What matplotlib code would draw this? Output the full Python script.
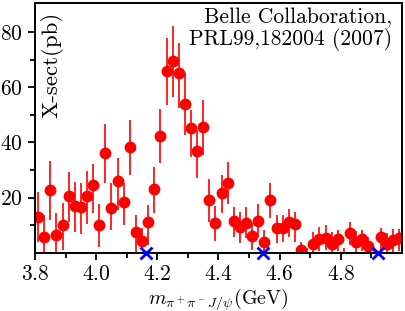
import matplotlib
matplotlib.use('Agg')
import numpy as np
import matplotlib.pyplot as plt

plt.rcParams['font.family'] = 'serif'
plt.rcParams['font.serif'] = ['cmr10', 'DejaVu Serif']
plt.rcParams['mathtext.fontset'] = 'cm'
plt.rcParams['axes.unicode_minus'] = False
plt.rcParams['axes.formatter.use_mathtext'] = True

# bin centres (GeV)
mass = [3.81, 3.83, 3.85, 3.87, 3.89, 3.91, 3.93, 3.95, 3.97, 3.99,
        4.01, 4.03, 4.05, 4.07, 4.09, 4.11, 4.13, 4.15, 4.17, 4.19,
        4.21, 4.23, 4.25, 4.27, 4.29, 4.31, 4.33, 4.35, 4.37, 4.39,
        4.41, 4.43, 4.45, 4.47, 4.49, 4.51, 4.53, 4.55, 4.57, 4.59,
        4.61, 4.63, 4.65, 4.67, 4.69, 4.71, 4.73, 4.75, 4.77, 4.79,
        4.81, 4.83, 4.85, 4.87, 4.89, 4.91, 4.93, 4.95, 4.97, 4.99]
# cross section (pb)
xsec = [13.1, 5.9, 22.8, 6.5, 10.1, 20.6, 17.0, 16.8, 20.6, 24.5,
        10.1, 36.3, 16.4, 26.2, 18.6, 38.4, 7.7, 4.5, 11.1, 23.1,
        42.4, 65.9, 69.5, 65.0, 53.9, 45.1, 37.0, 45.7, 19.2, 11.0,
        21.6, 25.4, 11.7, 9.5, 11.0, 6.1, 11.7, 4.1, 19.2, 8.9,
        9.2, 11.3, 10.5, 1.1, -2.0, 3.1, 5.1, 5.5, 3.1, 5.1,
        -2.0, 7.1, 4.1, 5.1, 2.6, -2.0, 5.9, 3.1, 4.7, 5.3]
err_hi = [9.1, 7.8, 10.5, 7.9, 7.9, 8.6, 8.8, 8.4, 9.2, 7.7,
          7.6, 10.4, 8.8, 8.0, 6.8, 9.7, 6.0, 4.4, 6.3, 8.1,
          9.7, 11.7, 12.6, 11.1, 11.1, 6.6, 7.5, 9.6, 7.5, 6.0,
          6.6, 7.4, 5.0, 5.4, 5.7, 4.6, 6.0, 4.2, 6.0, 4.8,
          4.5, 4.5, 4.4, 3.0, 3.8, 4.6, 4.2, 4.6, 4.6, 3.2,
          3.8, 4.2, 3.9, 3.2, 3.3, 3.8, 3.3, 4.0, 4.0, 3.4]
err_lo = [9.0, 5.4, 10.9, 6.0, 9.0, 9.3, 9.3, 9.9, 10.1, 10.1,
          7.8, 11.1, 8.1, 10.6, 8.5, 10.2, 7.2, 3.4, 8.2, 8.7,
          9.9, 12.4, 13.0, 12.7, 11.2, 10.3, 10.0, 10.3, 7.9, 6.6,
          7.2, 7.8, 5.8, 5.8, 5.5, 5.0, 5.8, 3.6, 6.7, 5.4,
          5.4, 5.4, 6.4, 1.8, 3.0, 2.7, 4.2, 4.5, 2.7, 4.2,
          3.0, 4.1, 3.6, 4.2, 2.6, 3.0, 4.8, 2.7, 4.2, 4.5]

# thresholds marked on the axis
thresholds = [4.164, 4.547, 4.923]

fig = plt.figure(figsize=(4.05, 3.11), dpi=100)
ax = fig.add_axes([0.0864, 0.1865, 0.9062, 0.8035])

ax.errorbar(mass, xsec, yerr=[err_lo, err_hi], fmt='o', color='#ff0000',
            ms=7.5, elinewidth=1.2, capsize=0)
ax.plot(thresholds, [0] * len(thresholds), 'x', color='#0000ff', ms=9, mew=2.0,
        clip_on=False, zorder=5)

ax.set_xlim(3.8, 5.0)
ax.set_ylim(0, 90.4)
ax.set_xticks([3.8, 4.0, 4.2, 4.4, 4.6, 4.8])
ax.set_xticks([3.9, 4.1, 4.3, 4.5, 4.7, 4.9], minor=True)
ax.set_yticks([20, 40, 60, 80])
ax.set_yticks([10, 30, 50, 70], minor=True)
ax.tick_params(which='major', direction='out', length=5, width=1.3, labelsize=15.5)
ax.tick_params(which='minor', direction='out', length=3.5, width=1.3)
for s in ax.spines.values():
    s.set_linewidth(1.4)

ax.set_xlabel(r'$m_{\pi^+\pi^-J/\psi}$(GeV)', fontsize=14.5, labelpad=1)
ax.text(0.045, 0.965, 'X-sect(pb)', transform=ax.transAxes, rotation=90,
        ha='center', va='top', fontsize=16.5)
ax.text(0.973, 0.985, 'Belle Collaboration,\nPRL99,182004 (2007)',
        transform=ax.transAxes, ha='right', va='top', fontsize=15.5,
        linespacing=1.05)

plt.savefig('out.png', dpi=100)
